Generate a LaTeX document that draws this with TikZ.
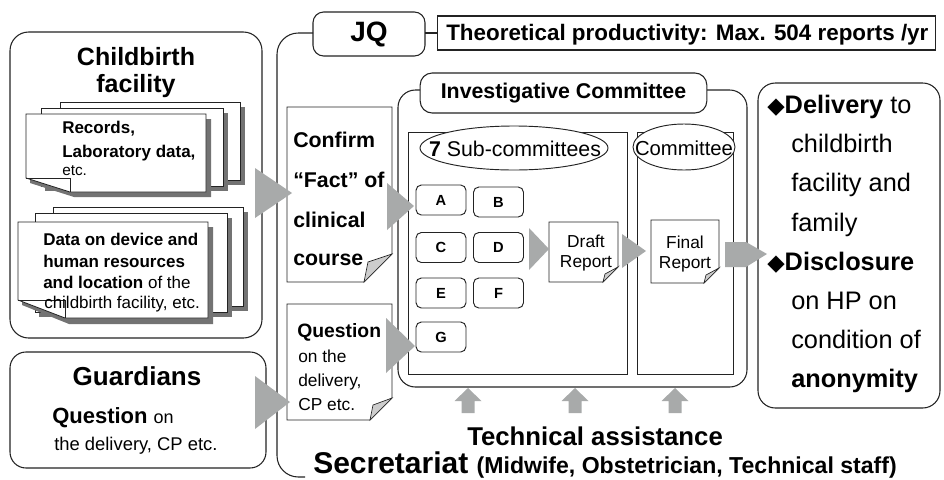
\documentclass[tikz,border=0pt]{standalone}
\usepackage{fontspec}
\setmainfont{Liberation Sans}
\newfontfamily\dvs{DejaVu Sans}
\newcommand\fpx[1]{\fontsize{#1}{#1}\selectfont}
\definecolor{arrowgray}{RGB}{168,170,170}
\definecolor{linec}{RGB}{35,35,35}
\definecolor{foldgray}{RGB}{205,205,205}
\tikzset{
  box/.style={draw=linec, line width=0.8pt},
  blk/.style={fill=arrowgray, draw=none},
  lt/.style={anchor=base west, inner sep=0pt},
  ct/.style={anchor=base, inner sep=0pt},
  sheet/.style={draw=linec, fill=white, line width=0.6pt},
  shade/.style={fill=black!55, draw=none},
  fold/.style={draw=linec, fill=foldgray, line width=0.5pt},
  letterbox/.style={draw=linec, rounded corners=4pt, line width=0.7pt, minimum width=37.5pt, minimum height=22.5pt, inner sep=0pt, font=\fpx{11}\bfseries},
}
\begin{document}
\begin{tikzpicture}[x=0.75pt, y=-0.75pt]
\path[use as bounding box] (0,0) rectangle (944,479);

% ---------- Childbirth facility ----------
\draw[box, rounded corners=14pt] (10,32) rectangle (262,338);
\node[ct, font=\fpx{18.75}\bfseries] (cfac1) at (136,65) {Childbirth};
\node[ct, font=\fpx{18.75}\bfseries] (cfac2) at (136,92) {facility};

% stack 1
\fill[shade] (64,107) rectangle (245,185);
\draw[sheet] (60,102) rectangle (240,180);
\fill[shade] (45,113) rectangle (228,191);
\draw[sheet] (41,108) rectangle (223,186);
\fill[shade] (30,119) -- (211,119) -- (211,197) -- (74,197) -- (30,183) -- cycle;
\draw[sheet] (26,114) -- (206,114) -- (206,192) -- (70,192) -- (26,178) -- cycle;
\draw[linec, line width=0.5pt] (26,178) -- (70,178) -- (70,192);
\node[lt, font=\fpx{12.75}\bfseries] (rec1) at (62,133) {Records,};
\node[lt, font=\fpx{12.75}\bfseries] (rec2) at (62,157) {Laboratory data,};
\node[lt, font=\fpx{11.5}] (rec3) at (62,175) {etc.};

% stack 2
\fill[shade] (57,212) rectangle (248,311);
\draw[sheet] (53,207) rectangle (243,306);
\fill[shade] (39,218) rectangle (232,317);
\draw[sheet] (35,213) rectangle (227,312);
\fill[shade] (22,227) -- (213,227) -- (213,324) -- (69,324) -- (22,305) -- cycle;
\draw[sheet] (18,222) -- (208,222) -- (208,318) -- (65,318) -- (18,300) -- cycle;
\draw[linec, line width=0.5pt] (18,300) -- (65,300) -- (65,318);
\node[lt, font=\fpx{12.75}\bfseries] (dat1) at (43,245) {Data on device and};
\node[lt, font=\fpx{12.75}\bfseries] (dat2) at (43,267) {human resources};
\node[lt, font=\fpx{12.75}] (dat3) at (43,288) {\textbf{and location} of the};
\node[lt, font=\fpx{12.75}] (dat4) at (44,308) {childbirth facility, etc.};

% ---------- Guardians ----------
\draw[box, rounded corners=12pt] (10,352) rectangle (266,468);
\node[ct, font=\fpx{19.5}\bfseries] (guard) at (137,385) {Guardians};
\node[lt, font=\fpx{16.5}\bfseries] (gq1) at (52,423) {Question {\fpx{13.5}\mdseries on}};
\node[lt, font=\fpx{13.8}] (gq2) at (54,450) {the delivery, CP etc.};

% ---------- JQ frame ----------
\draw[box, rounded corners=16pt] (313,33) -- (277,33) -- (277,477) -- (305,477);
\draw[box] (425,33) -- (437,33);
\node[box, rounded corners=8pt, minimum width=84pt, minimum height=33pt, inner sep=0pt, font=\fpx{21}\bfseries] (jq) at (369,34) {JQ};
\node[box, minimum width=374pt, minimum height=25.5pt, inner sep=0pt] (theo) at (686.5,33) {};
\node[lt, font=\fpx{16.8}\bfseries] (theot) at (446,40) {Theoretical productivity: Max. 504 reports /yr};

% ---------- Investigative committee ----------
\draw[box, rounded corners=13pt] (420,90) -- (398,90) -- (398,387) -- (747,387) -- (747,90) -- (707,90);
\node[box, rounded corners=9pt, minimum width=215pt, minimum height=30pt, inner sep=0pt, font=\fpx{16}\bfseries] (inv) at (563.5,93) {Investigative Committee};

\draw[box, line width=0.7pt] (408,132) rectangle (627,374);
\draw[box, line width=0.7pt] (637,132) rectangle (733,374);
\draw[box, fill=white, line width=0.7pt] (514,148) ellipse [x radius=94, y radius=22];
\node[ct, font=\fpx{16}] (sub) at (515,156) {\textbf{7} Sub-committees};
\draw[box, fill=white, line width=0.7pt] (684,147) ellipse [x radius=51, y radius=23];
\node[ct, font=\fpx{15.2}] (comm) at (684,155) {Committee};

\node[letterbox] (A) at (441,200) {A};
\node[letterbox] (B) at (498.5,202) {B};
\node[letterbox] (C) at (441,247.5) {C};
\node[letterbox] (D) at (498.5,247.5) {D};
\node[letterbox] (E) at (441,293) {E};
\node[letterbox] (F) at (498.5,293) {F};
\node[letterbox] (G) at (441,337) {G};

% Draft report
\draw[sheet, line width=0.7pt] (549,222) -- (618,222) -- (618,267) -- (603,282) -- (549,282) -- cycle;
\draw[fold] (618,267) -- (605,274) -- (603,282) -- cycle;
\node[ct, font=\fpx{13}] (draft1) at (586,247) {Draft};
\node[ct, font=\fpx{13}] (draft2) at (586,267) {Report};

% Final report
\draw[sheet, line width=0.7pt] (651,220) -- (719,220) -- (719,268) -- (704,283) -- (651,283) -- cycle;
\draw[fold] (719,268) -- (706,275) -- (704,283) -- cycle;
\node[ct, font=\fpx{13}] (final1) at (685,248) {Final};
\node[ct, font=\fpx{13}] (final2) at (685,268) {Report};

% ---------- Confirm / Question documents ----------
\draw[sheet, line width=0.7pt] (287,107) -- (392,107) -- (392,254) -- (364,282) -- (287,282) -- cycle;
\draw[fold] (392,254) -- (368,262) -- (364,282) -- cycle;
\node[lt, font=\fpx{16}\bfseries] (cf1) at (293,147) {Confirm};
\node[lt, font=\fpx{16}\bfseries] (cf2) at (293,187) {“Fact” of};
\node[lt, font=\fpx{16}\bfseries] (cf3) at (293,227) {clinical};
\node[lt, font=\fpx{16}\bfseries] (cf4) at (293,265) {course};

\draw[sheet, line width=0.7pt] (287,304) -- (392,304) -- (392,398) -- (370,420) -- (287,420) -- cycle;
\draw[fold] (392,398) -- (373,405) -- (370,420) -- cycle;
\node[lt, font=\fpx{14.5}\bfseries] (qd1) at (297,337) {Question};
\node[lt, font=\fpx{13}] (qd2) at (298,362) {on the};
\node[lt, font=\fpx{13}] (qd3) at (298,386) {delivery,};
\node[lt, font=\fpx{13}] (qd4) at (298,410) {CP etc.};

% ---------- Right box ----------
\draw[box, rounded corners=13pt] (758,83) rectangle (940,408);
\node[lt, font=\fpx{19}] (r1) at (767,113) {{\dvs\fpx{17}◆}\textbf{Delivery} to};
\node[lt, font=\fpx{19}] (r2) at (791,152) {childbirth};
\node[lt, font=\fpx{19}] (r3) at (791,191) {facility and};
\node[lt, font=\fpx{19}] (r4) at (791,231) {family};
\node[lt, font=\fpx{19}] (r5) at (767,270) {{\dvs\fpx{17}◆}\textbf{Disclosure}};
\node[lt, font=\fpx{19}] (r6) at (791,309) {on HP on};
\node[lt, font=\fpx{19}] (r7) at (791,348) {condition of};
\node[lt, font=\fpx{19}\bfseries] (r8) at (791,387) {anonymity};

% ---------- Block arrows ----------
\fill[blk] (255,168) -- (255,218) -- (292,193) -- cycle;
\fill[blk] (255,376) -- (255,429) -- (290,402) -- cycle;
\fill[blk] (387,183) -- (387,230) -- (414,206) -- cycle;
\fill[blk] (386,318) -- (386,373) -- (415,346) -- cycle;
\fill[blk] (529,228) -- (529,270) -- (549,249) -- cycle;
\fill[blk] (622,234) -- (622,268) -- (646,251) -- cycle;
\fill[blk] (725,242) -- (746,242) -- (767,254) -- (746,267) -- (725,267) -- cycle;
\foreach \cx in {468,575,675}{
  \fill[blk] (\cx-13.5,401) -- (\cx,388) -- (\cx+13.5,401) -- (\cx+6.5,401) -- (\cx+6.5,413) -- (\cx-6.5,413) -- (\cx-6.5,401) -- cycle;
}

% ---------- Bottom text ----------
\node[lt, font=\fpx{19.3}\bfseries] (tech) at (467,445) {Technical assistance};
\node[lt, font=\fpx{22.5}\bfseries] (secr) at (313,473) {Secretariat {\fpx{17.3}(Midwife, Obstetrician, Technical staff)}};
\end{tikzpicture}
\end{document}
